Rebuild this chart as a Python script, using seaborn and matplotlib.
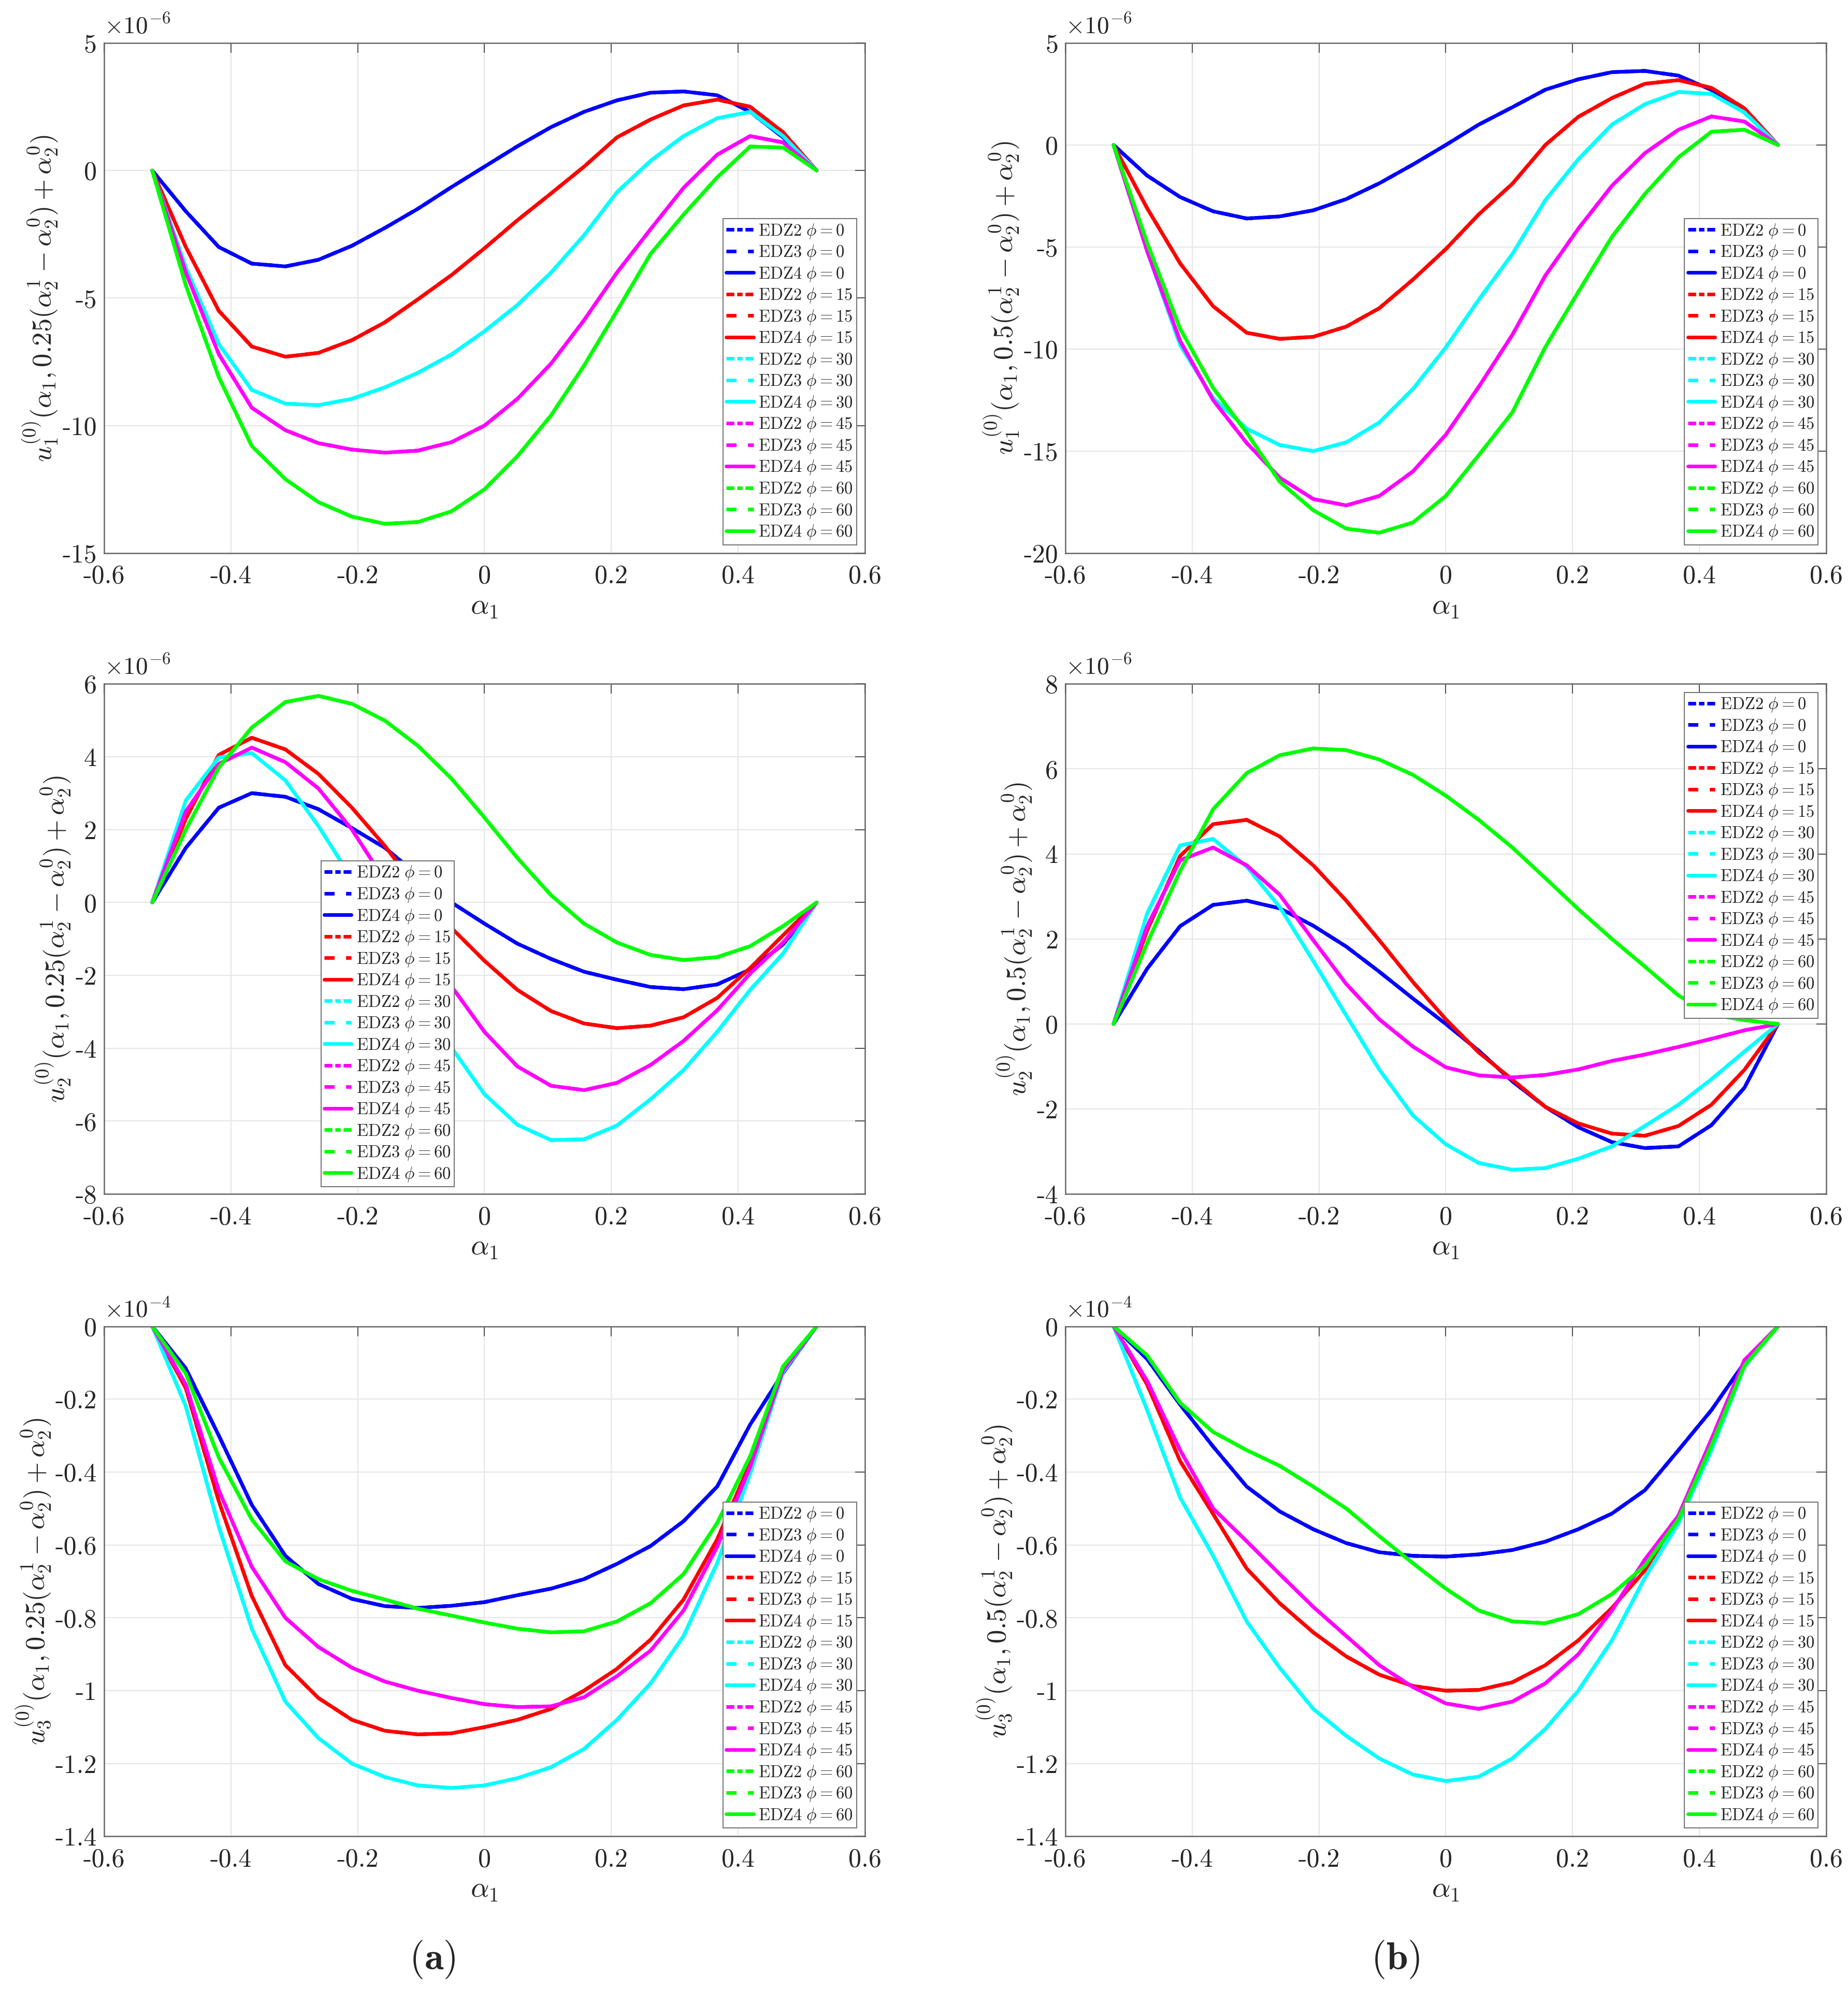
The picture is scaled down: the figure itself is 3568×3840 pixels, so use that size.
import matplotlib
matplotlib.use("Agg")
import matplotlib.pyplot as plt
from matplotlib.ticker import FuncFormatter, MultipleLocator
import seaborn as sns

# abscissa alpha_1 (from -pi/6 to pi/6)
alpha1 = [-0.524, -0.471, -0.419, -0.367, -0.314, -0.262, -0.209, -0.157, -0.105, -0.052, 0.0,
          0.052, 0.105, 0.157, 0.209, 0.262, 0.314, 0.367, 0.419, 0.471, 0.524]

phis = [0, 15, 30, 45, 60]
phi_colors = ["#0000ff", "#ff0000", "#00ffff", "#ff00ff", "#00ff00"]
models = ["EDZ2", "EDZ3", "EDZ4"]

# u1, 0.25  (x 1e-6)
u1a_phi0 = [0, -1.6, -3.0, -3.65, -3.76, -3.5, -2.95, -2.25, -1.5, -0.65, 0.15, 0.95, 1.7, 2.3, 2.75, 3.05, 3.1, 2.95, 2.3, 1.3, 0]
u1a_phi15 = [0, -3.0, -5.5, -6.9, -7.3, -7.15, -6.65, -5.95, -5.05, -4.1, -3.05, -1.95, -0.9, 0.15, 1.3, 2.0, 2.55, 2.78, 2.5, 1.5, 0]
u1a_phi30 = [0, -3.8, -6.8, -8.6, -9.14, -9.2, -8.95, -8.5, -7.93, -7.21, -6.3, -5.27, -4.0, -2.54, -0.85, 0.38, 1.35, 2.05, 2.3, 1.35, 0]
u1a_phi45 = [0, -4.0, -7.2, -9.3, -10.18, -10.69, -10.94, -11.06, -10.98, -10.65, -10.0, -8.95, -7.57, -5.87, -4.0, -2.3, -0.68, 0.62, 1.35, 1.1, 0]
u1a_phi60 = [0, -4.5, -8.1, -10.8, -12.1, -13.0, -13.57, -13.85, -13.78, -13.36, -12.5, -11.2, -9.6, -7.65, -5.5, -3.27, -1.73, -0.27, 0.94, 0.9, 0]

# u1, 0.5  (x 1e-6)
u1b_phi0 = [0, -1.5, -2.55, -3.25, -3.6, -3.5, -3.2, -2.65, -1.88, -0.96, 0, 1.0, 1.85, 2.71, 3.22, 3.57, 3.63, 3.4, 2.7, 1.6, 0]
u1b_phi15 = [0, -3.1, -5.8, -7.9, -9.2, -9.5, -9.4, -8.9, -8.0, -6.6, -5.1, -3.4, -1.9, 0, 1.38, 2.3, 3.0, 3.18, 2.8, 1.8, 0]
u1b_phi30 = [0, -5.2, -9.8, -12.4, -13.9, -14.7, -15.0, -14.57, -13.6, -11.96, -9.92, -7.58, -5.34, -2.7, -0.7, 1.0, 2.0, 2.6, 2.5, 1.6, 0]
u1b_phi45 = [0, -5.2, -9.6, -12.5, -14.6, -16.3, -17.35, -17.66, -17.2, -16.0, -14.2, -11.85, -9.3, -6.4, -4.1, -2.0, -0.4, 0.75, 1.4, 1.15, 0]
u1b_phi60 = [0, -4.8, -9.0, -11.9, -14.1, -16.5, -17.9, -18.8, -19.0, -18.5, -17.2, -15.2, -13.1, -9.9, -7.2, -4.5, -2.4, -0.6, 0.65, 0.75, 0]

# u2, 0.25  (x 1e-6)
u2a_phi0 = [0, 1.5, 2.6, 3.0, 2.9, 2.56, 2.04, 1.5, 0.75, 0.0, -0.58, -1.13, -1.55, -1.9, -2.12, -2.32, -2.38, -2.25, -1.84, -1.15, 0]
u2a_phi15 = [0, 2.3, 4.05, 4.52, 4.2, 3.53, 2.6, 1.55, 0.35, -0.7, -1.6, -2.4, -2.98, -3.32, -3.45, -3.38, -3.15, -2.62, -1.8, -0.9, 0]
u2a_phi30 = [0, 2.8, 3.98, 4.1, 3.35, 2.1, 0.65, -0.9, -2.44, -3.98, -5.26, -6.1, -6.52, -6.5, -6.12, -5.4, -4.6, -3.55, -2.4, -1.4, 0]
u2a_phi45 = [0, 2.5, 3.8, 4.25, 3.85, 3.13, 2.0, 0.6, -0.85, -2.3, -3.55, -4.5, -5.03, -5.15, -4.95, -4.46, -3.8, -2.96, -1.95, -1.1, 0]
u2a_phi60 = [0, 2.0, 3.7, 4.8, 5.5, 5.67, 5.45, 4.99, 4.3, 3.4, 2.33, 1.22, 0.2, -0.58, -1.1, -1.44, -1.58, -1.5, -1.2, -0.65, 0]

# u2, 0.5  (x 1e-6)
u2b_phi0 = [0, 1.3, 2.3, 2.8, 2.9, 2.72, 2.31, 1.82, 1.23, 0.6, 0, -0.63, -1.35, -1.95, -2.43, -2.78, -2.92, -2.88, -2.38, -1.5, 0]
u2b_phi15 = [0, 2.2, 3.95, 4.7, 4.8, 4.41, 3.73, 2.9, 1.97, 0.99, 0.11, -0.67, -1.31, -1.95, -2.34, -2.58, -2.63, -2.4, -1.9, -1.08, 0]
u2b_phi30 = [0, 2.6, 4.2, 4.35, 3.7, 2.75, 1.48, 0.2, -1.07, -2.15, -2.83, -3.27, -3.43, -3.39, -3.17, -2.88, -2.4, -1.9, -1.3, -0.65, 0]
u2b_phi45 = [0, 2.3, 3.85, 4.15, 3.73, 3.04, 1.97, 0.94, 0.11, -0.53, -1.02, -1.21, -1.26, -1.2, -1.07, -0.87, -0.72, -0.54, -0.35, -0.15, 0]
u2b_phi60 = [0, 1.9, 3.6, 5.05, 5.9, 6.32, 6.48, 6.44, 6.22, 5.86, 5.37, 4.8, 4.15, 3.43, 2.7, 2.0, 1.35, 0.67, 0.22, 0.09, 0]

# u3, 0.25  (x 1e-4)
u3a_phi0 = [0, -0.116, -0.3, -0.49, -0.63, -0.707, -0.748, -0.768, -0.773, -0.767, -0.757, -0.738, -0.72, -0.694, -0.652, -0.603, -0.535, -0.44, -0.27, -0.128, 0]
u3a_phi15 = [0, -0.17, -0.48, -0.74, -0.93, -1.02, -1.08, -1.11, -1.12, -1.117, -1.10, -1.08, -1.05, -1.0, -0.94, -0.86, -0.75, -0.585, -0.376, -0.12, 0]
u3a_phi30 = [0, -0.22, -0.55, -0.83, -1.03, -1.13, -1.2, -1.237, -1.26, -1.267, -1.26, -1.24, -1.21, -1.16, -1.08, -0.98, -0.85, -0.65, -0.405, -0.125, 0]
u3a_phi45 = [0, -0.16, -0.45, -0.66, -0.8, -0.88, -0.937, -0.975, -1.0, -1.02, -1.037, -1.045, -1.043, -1.018, -0.96, -0.89, -0.78, -0.605, -0.386, -0.12, 0]
u3a_phi60 = [0, -0.13, -0.36, -0.53, -0.645, -0.694, -0.726, -0.75, -0.775, -0.794, -0.813, -0.83, -0.84, -0.837, -0.81, -0.76, -0.68, -0.54, -0.357, -0.11, 0]

# u3, 0.5  (x 1e-4)
u3b_phi0 = [0, -0.09, -0.215, -0.33, -0.44, -0.508, -0.557, -0.595, -0.62, -0.63, -0.632, -0.626, -0.614, -0.591, -0.557, -0.514, -0.45, -0.34, -0.23, -0.1, 0]
u3b_phi15 = [0, -0.16, -0.37, -0.515, -0.665, -0.76, -0.84, -0.906, -0.956, -0.987, -1.0, -0.998, -0.977, -0.93, -0.862, -0.773, -0.67, -0.52, -0.32, -0.1, 0]
u3b_phi30 = [0, -0.23, -0.47, -0.63, -0.81, -0.937, -1.05, -1.124, -1.186, -1.23, -1.248, -1.236, -1.186, -1.105, -1.0, -0.862, -0.69, -0.54, -0.34, -0.11, 0]
u3b_phi45 = [0, -0.15, -0.34, -0.5, -0.59, -0.68, -0.77, -0.85, -0.93, -0.99, -1.035, -1.05, -1.03, -0.98, -0.9, -0.78, -0.64, -0.52, -0.31, -0.093, 0]
u3b_phi60 = [0, -0.08, -0.21, -0.29, -0.34, -0.383, -0.44, -0.5, -0.576, -0.65, -0.72, -0.78, -0.81, -0.815, -0.79, -0.735, -0.657, -0.53, -0.327, -0.108, 0]

sns.set_style("white")
plt.rcParams["mathtext.fontset"] = "cm"
plt.rcParams["font.family"] = ["cmr10", "DejaVu Serif"]
plt.rcParams["axes.unicode_minus"] = False
plt.rcParams["axes.formatter.use_mathtext"] = True

line_styles = [(0, (2.2, 0.8, 1.5, 0.8)), (0, (2.8, 3.2)), "-"]

panels = [
    # left, bottom, series, ylim, ystep, component, factor, exponent, legend placement
    (0.0563, 0.7219, [u1a_phi0, u1a_phi15, u1a_phi30, u1a_phi45, u1a_phi60], (-15, 5), 5, 1, "0.25", -6, "lr"),
    (0.5765, 0.7219, [u1b_phi0, u1b_phi15, u1b_phi30, u1b_phi45, u1b_phi60], (-20, 5), 5, 1, "0.5", -6, "lr"),
    (0.0563, 0.3997, [u2a_phi0, u2a_phi15, u2a_phi30, u2a_phi45, u2a_phi60], (-8, 6), 2, 2, "0.25", -6, "mid"),
    (0.5765, 0.3997, [u2b_phi0, u2b_phi15, u2b_phi30, u2b_phi45, u2b_phi60], (-4, 8), 2, 2, "0.5", -6, "ur"),
    (0.0563, 0.0767, [u3a_phi0, u3a_phi15, u3a_phi30, u3a_phi45, u3a_phi60], (-1.4, 0), 0.2, 3, "0.25", -4, "lr"),
    (0.5765, 0.0767, [u3b_phi0, u3b_phi15, u3b_phi30, u3b_phi45, u3b_phi60], (-1.4, 0), 0.2, 3, "0.5", -4, "lr"),
]


def tick_fmt(v, pos):
    v = round(v, 6)
    if v == 0:
        return "0"
    return f"{v:g}"


fig = plt.figure(figsize=(35.68, 38.4), dpi=100)

for left, bottom, series, ylim, ystep, comp, fac, expo, legpos in panels:
    ax = fig.add_axes([left, bottom, 0.4117, 0.2565])
    for phi, col, ys in zip(phis, phi_colors, series):
        for model, ls in zip(models, line_styles):
            sns.lineplot(x=alpha1, y=ys, ax=ax, color=col, linestyle=ls, linewidth=5,
                         label=rf"$\mathrm{{{model}}}\ \phi = {phi}$", sort=False, estimator=None)

    ax.set_xlim(-0.6, 0.6)
    ax.set_ylim(*ylim)
    ax.xaxis.set_major_locator(MultipleLocator(0.2))
    ax.yaxis.set_major_locator(MultipleLocator(ystep))
    ax.xaxis.set_major_formatter(FuncFormatter(tick_fmt))
    ax.yaxis.set_major_formatter(FuncFormatter(tick_fmt))
    ax.grid(True, color="#e6e6e6", linewidth=1.5)
    ax.set_axisbelow(True)
    for sp in ax.spines.values():
        sp.set_color("#666666")
        sp.set_linewidth(1.8)
    ax.tick_params(direction="in", length=14, width=1.5, top=True, right=True,
                   labelsize=36, color="#555555", labelcolor="#262626")
    ax.tick_params(axis="x", pad=16)
    ax.tick_params(axis="y", pad=10)

    ax.set_xlabel(r"$\alpha_1$", fontsize=40, labelpad=8, color="#262626")
    ax.set_ylabel(rf"$u_{comp}^{{(0)}}(\alpha_1, {fac}(\alpha_2^1 - \alpha_2^0) + \alpha_2^0)$",
                  fontsize=38, labelpad=4, color="#262626")
    ax.text(0.0, 1.01, rf"$\times 10^{{{expo}}}$", transform=ax.transAxes,
            ha="left", va="bottom", fontsize=34, color="#262626")

    leg_kw = dict(fontsize=23.5, frameon=True, fancybox=False, labelspacing=0.2,
                  handlelength=1.6, handletextpad=0.3, borderpad=0.2)
    if legpos == "lr":
        leg = ax.legend(loc="lower right", **leg_kw)
    elif legpos == "ur":
        leg = ax.legend(loc="upper right", **leg_kw)
    else:
        leg = ax.legend(loc="lower left", bbox_to_anchor=(0.285, 0.014), borderaxespad=0, **leg_kw)
    leg.get_frame().set_edgecolor("#777777")
    leg.get_frame().set_linewidth(1.5)
    leg.get_frame().set_alpha(1.0)

fig.text(0.234, 0.0148, r"$(\mathbf{a})$", ha="center", va="center", fontsize=54)
fig.text(0.755, 0.0148, r"$(\mathbf{b})$", ha="center", va="center", fontsize=54)

fig.savefig("out.png", dpi=100, facecolor="white")
